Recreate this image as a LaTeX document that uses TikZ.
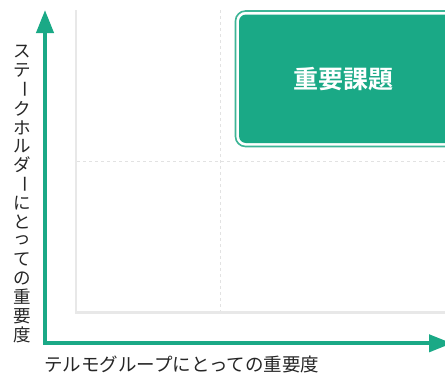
\documentclass[tikz,border=0pt]{standalone}
\usepackage{fontspec}
\setmainfont{Noto Sans CJK JP}
\newfontfamily\jpbold{Noto Sans CJK JP Bold}
\usetikzlibrary{arrows.meta}
\definecolor{tgreen}{HTML}{1AA986}
\definecolor{tgreenline}{HTML}{3DB596}
\definecolor{framegray}{HTML}{E8E8E8}
\definecolor{dashgray}{HTML}{E2E2E2}
\tikzset{
  axis/.style={draw=tgreen, line width=4pt, line join=miter,
    {Triangle[length=23pt,width=17pt]}-{Triangle[length=23pt,width=17pt]}},
  frameline/.style={draw=framegray, line width=2.5pt},
  gridline/.style={draw=dashgray, line width=1pt, dash pattern=on 3pt off 3pt},
  ychar/.style={inner sep=0pt, font=\fontsize{17.5}{17.5}\selectfont, text=black!85},
  xlabel/.style={inner sep=0pt, anchor=west, font=\fontsize{18.5}{19}\selectfont, text=black!85},
  boxtext/.style={inner sep=0pt, text=white, font=\jpbold\fontsize{25}{26}\selectfont}
}
\begin{document}
\begin{tikzpicture}[x=1pt,y=-1pt]
\useasboundingbox (0,0) rectangle (445,378);
\clip (0,0) rectangle (445,378);
\fill[white] (0,0) rectangle (445,378);
% grid
\coordinate (ftop) at (76,10);
\coordinate (fcorner) at (76,312.5);
\coordinate (fright) at (450,312.5);
\coordinate (vtop) at (220.5,10);
\coordinate (vbot) at (220.5,311);
\coordinate (hleft) at (77,161);
\coordinate (hright) at (450,161);
\draw[gridline] (vtop) -- (vbot);
\draw[gridline] (hleft) -- (hright);
\draw[frameline] (ftop) -- (fcorner) -- (fright);
% box
\draw[draw=tgreenline, line width=1.6pt, rounded corners=10pt] (235.5,11) rectangle (470,146.5);
\fill[tgreen, rounded corners=7pt] (239,14.5) rectangle (470,143);
\node[boxtext] (box) at (343.5,79) {重要課題};
% axes
\coordinate (O) at (45,343.3);
\coordinate (ytip) at (45,10);
\coordinate (xtip) at (452,343.3);
\draw[axis] (ytip) -- (O) -- (xtip);
% y label
\foreach \c [count=\i from 0] in {ス,テ,ー,ク,ホ,ル,ダ,ー,に,と,っ,て,の,重,要,度}{
  \node[ychar] (yl\i) at (22,52+\i*18.85) {\c};
}
\node[ychar, rotate=-90, fill=white, minimum width=14pt, minimum height=17pt] (ylbar1) at (yl2) {ー};
\node[ychar, rotate=-90, fill=white, minimum width=14pt, minimum height=17pt] (ylbar2) at (yl7) {ー};
% x label
\node[xlabel] (xl) at (44,364.5) {テルモグループにとっての重要度};
\end{tikzpicture}
\end{document}
